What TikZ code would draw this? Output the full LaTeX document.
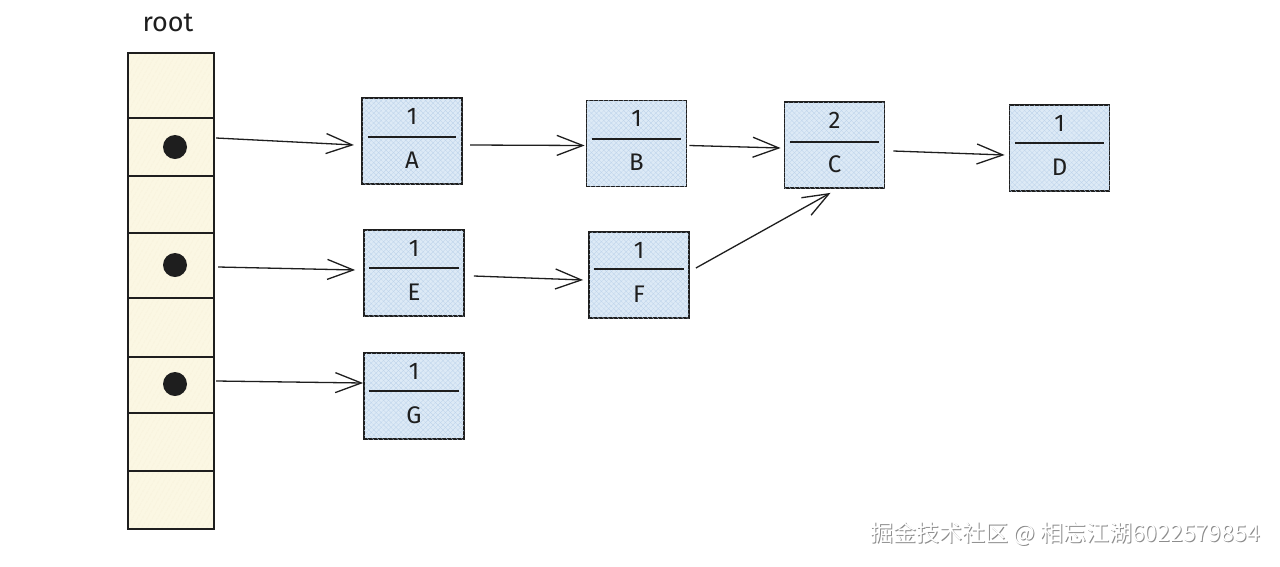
\documentclass[tikz,border=0pt]{standalone}
\usepackage{fontspec}
\setmainfont{Fira Sans}
\newfontfamily\cjk{Noto Sans CJK SC}
\usetikzlibrary{arrows.meta,patterns.meta,calc}
\definecolor{ink}{HTML}{1E1E1E}
\definecolor{rootfill}{HTML}{FBF7E3}
\definecolor{roothatch}{HTML}{EDE6C4}
\definecolor{boxfill}{HTML}{DDEAF6}
\definecolor{boxhatch}{HTML}{BCD2EA}
\definecolor{wmgray}{HTML}{8C8C8C}
\tikzset{
  rootcol/.style={draw=ink, line width=1.8pt, preaction={fill=rootfill},
    pattern={Lines[angle=60,distance=4pt,line width=0.3pt]}, pattern color=roothatch},
  cellline/.style={draw=ink, line width=1.3pt},
  dot/.style={circle, fill=ink, minimum width=22pt, minimum height=24pt, inner sep=0pt},
  refbox/.style={draw=ink, line width=1.8pt, minimum width=100pt, minimum height=86pt,
    inner sep=0pt, preaction={fill=boxfill},
    pattern={Lines[angle=45,distance=3.5pt,line width=0.3pt]}, pattern color=boxhatch,
    postaction={pattern={Lines[angle=-45,distance=3.5pt,line width=0.3pt]}, pattern color=boxhatch}},
  divider/.style={draw=ink, line width=1.4pt},
  lbl/.style={font=\fontsize{24}{26}\selectfont, text=ink, inner sep=0pt},
  arr/.style={draw=ink, line width=1.3pt, -{Straight Barb[length=26pt,width=20pt,line width=1.3pt]}},
  wm/.style={font=\cjk\fontsize{23}{26}\selectfont, inner sep=0pt, anchor=east}
}
\begin{document}
\begin{tikzpicture}[x=1pt,y=-1pt]
\useasboundingbox[fill=white] (0,0) rectangle (1280,566);

% root column
\node[lbl, font=\fontsize{27}{29}\selectfont] (roottxt) at (168,23) {root};
\node[rootcol, minimum width=86pt, minimum height=476pt, inner sep=0pt] (col) at (171,291) {};
\foreach \yy in {118,176,233,298,357,413,471}
  \draw[cellline] (col.west |- 0,\yy) -- (col.east |- 0,\yy);
\node[dot] (d1) at (175,147) {};
\node[dot] (d2) at (175,265) {};
\node[dot] (d3) at (175,384) {};

% boxes
\node[refbox] (A) at (412,141) {};
\node[refbox] (B) at (636.5,143.5) {};
\node[refbox] (C) at (834.5,145) {};
\node[refbox] (D) at (1059.5,148) {};
\node[refbox] (E) at (414,273) {};
\node[refbox] (F) at (639,275) {};
\node[refbox] (G) at (414,396) {};

\foreach \n/\c/\l/\dy in {A/1/A/-4, B/1/B/-4.5, C/2/C/-3, D/1/D/-5, E/1/E/-5, F/1/F/-6, G/1/G/-5}{
  \draw[divider] ([xshift=6pt,yshift=-\dy pt]\n.west) -- ([xshift=-6pt,yshift=-\dy pt]\n.east);
  \node[lbl] (\n top) at ([yshift=25pt]\n.center) {\c};
  \node[lbl] (\n bot) at ([yshift=-19pt]\n.center) {\l};
}

% connectors
\draw[arr] ([xshift=2pt,yshift=9pt]col.east |- d1) -- ([xshift=-8pt,yshift=-4pt]A.west);
\draw[arr] ([xshift=8pt,yshift=-4pt]A.east) -- ([xshift=-1pt,yshift=-2pt]B.west);
\draw[arr] ([xshift=2pt,yshift=-2pt]B.east) -- ([xshift=-3pt,yshift=-3pt]C.west);
\draw[arr] ([xshift=8pt,yshift=-6pt]C.east) -- ([xshift=-4pt,yshift=-7pt]D.west);
\draw[arr] ([xshift=4pt,yshift=-2pt]col.east |- d2) -- ([xshift=-8pt,yshift=3pt]E.west);
\draw[arr] ([xshift=9pt,yshift=-3pt]E.east) -- ([xshift=-5pt,yshift=-5pt]F.west);
\draw[arr] ([xshift=6pt,yshift=7pt]F.east) -- ([xshift=-4pt,yshift=-4pt]C.south);
\draw[arr] ([xshift=2pt,yshift=3pt]col.east |- d3) -- ([xshift=0pt,yshift=13pt]G.west);

% watermark
\node[wm, text=wmgray] (wm1) at (1261,535) {掘金技术社区 @ 相忘江湖6022579854};
\node[wm, text=white] (wm2) at (1260,534) {掘金技术社区 @ 相忘江湖6022579854};
\end{tikzpicture}
\end{document}
